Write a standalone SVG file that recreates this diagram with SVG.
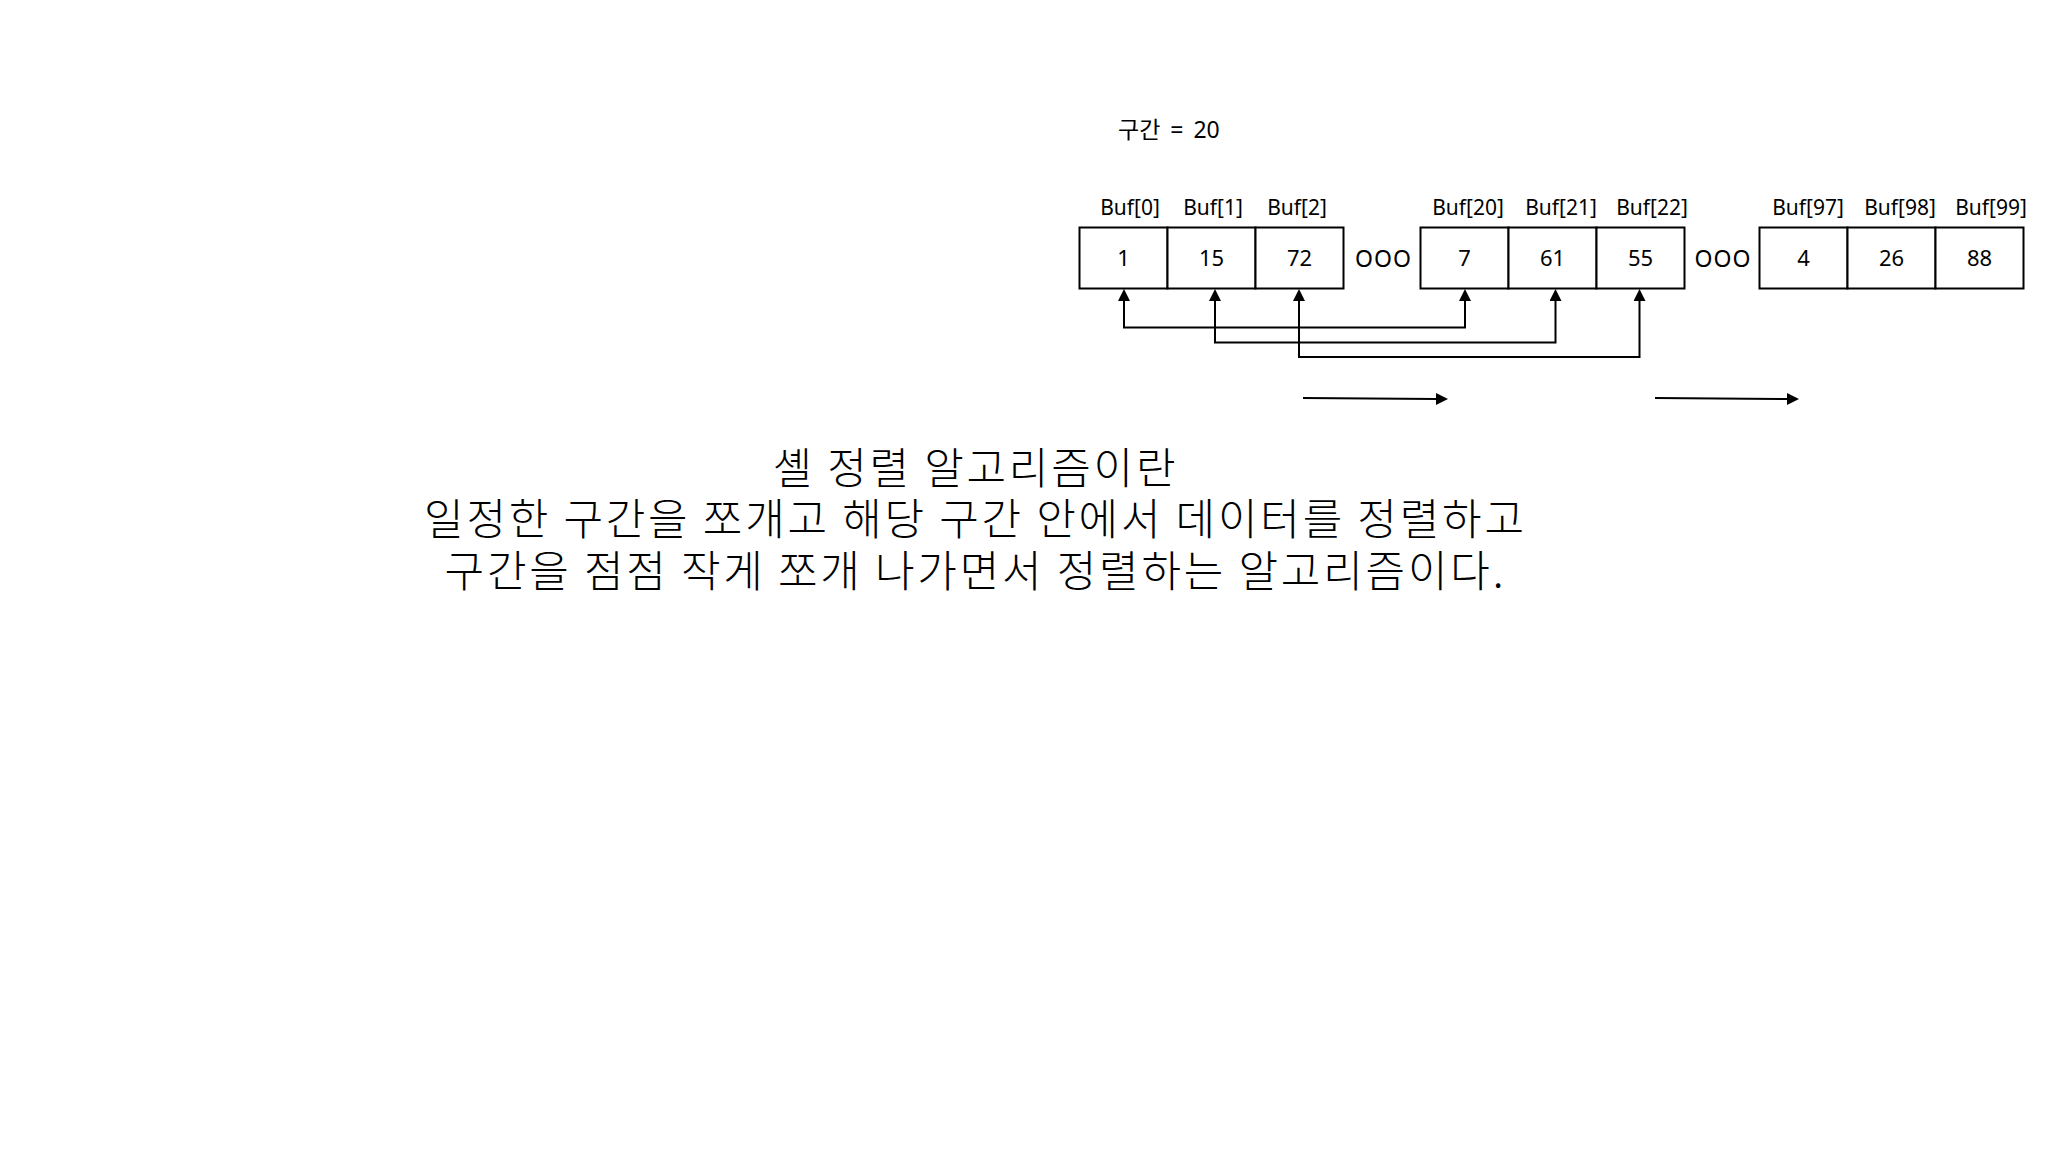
<svg xmlns="http://www.w3.org/2000/svg" width="2048" height="1152" viewBox="0 0 2048 1152">
<style>
.cell{fill:#fff;stroke:#000;stroke-width:2}
.num{font-family:"Noto Sans","Open Sans",sans-serif;font-size:22px;fill:#000;text-anchor:middle}
.lbl{font-family:"Noto Sans","Open Sans",sans-serif;font-size:21px;fill:#000;text-anchor:middle}
.dots{font-family:"Noto Sans","Open Sans",sans-serif;font-size:23px;fill:#000;text-anchor:middle;letter-spacing:1px}
.con{fill:none;stroke:#000;stroke-width:2}
.big{font-family:"Noto Sans CJK KR","Noto Sans",sans-serif;font-size:43px;font-weight:300;fill:#000;text-anchor:middle;letter-spacing:2.8px}
.hdr{font-family:"Noto Sans","Noto Sans CJK KR",sans-serif;font-size:23px;fill:#000;word-spacing:4px}
</style>
<defs>
<marker id="ah" markerUnits="userSpaceOnUse" markerWidth="12" markerHeight="12" viewBox="0 0 12 12" refX="0" refY="6" orient="auto-start-reverse">
<path d="M0,0 L12,6 L0,12 z" fill="#000"/>
</marker>
</defs>
<rect width="2048" height="1152" fill="#fff"/>

<g id="interval-label">
<text class="hdr" x="1118" y="138">구간 = 20</text>
</g>

<g id="group-start">
<g id="buf0"><rect class="cell" x="1079.5" y="227.5" width="88" height="61"/><text class="lbl" x="1130" y="215">Buf[0]</text><text class="num" x="1123.5" y="266">1</text></g>
<g id="buf1"><rect class="cell" x="1167.5" y="227.5" width="88" height="61"/><text class="lbl" x="1213" y="215">Buf[1]</text><text class="num" x="1211.5" y="266">15</text></g>
<g id="buf2"><rect class="cell" x="1255.5" y="227.5" width="88" height="61"/><text class="lbl" x="1297" y="215">Buf[2]</text><text class="num" x="1299.5" y="266">72</text></g>
</g>
<g id="ellipsis1"><text class="dots" x="1383.5" y="267">OOO</text></g>

<g id="group-mid">
<g id="buf20"><rect class="cell" x="1420.5" y="227.5" width="88" height="61"/><text class="lbl" x="1468" y="215">Buf[20]</text><text class="num" x="1464.5" y="266">7</text></g>
<g id="buf21"><rect class="cell" x="1508.5" y="227.5" width="88" height="61"/><text class="lbl" x="1561" y="215">Buf[21]</text><text class="num" x="1552.5" y="266">61</text></g>
<g id="buf22"><rect class="cell" x="1596.5" y="227.5" width="88" height="61"/><text class="lbl" x="1652" y="215">Buf[22]</text><text class="num" x="1640.5" y="266">55</text></g>
</g>
<g id="ellipsis2"><text class="dots" x="1723" y="267">OOO</text></g>

<g id="group-end">
<g id="buf97"><rect class="cell" x="1759.5" y="227.5" width="88" height="61"/><text class="lbl" x="1808" y="215">Buf[97]</text><text class="num" x="1803.5" y="266">4</text></g>
<g id="buf98"><rect class="cell" x="1847.5" y="227.5" width="88" height="61"/><text class="lbl" x="1900" y="215">Buf[98]</text><text class="num" x="1891.5" y="266">26</text></g>
<g id="buf99"><rect class="cell" x="1935.5" y="227.5" width="88" height="61"/><text class="lbl" x="1991" y="215">Buf[99]</text><text class="num" x="1979.5" y="266">88</text></g>
</g>

<g id="connectors">
<path class="con" d="M1124,301 V327.5 H1465 V301" marker-start="url(#ah)" marker-end="url(#ah)"/>
<path class="con" d="M1215,301 V342.5 H1555.5 V301" marker-start="url(#ah)" marker-end="url(#ah)"/>
<path class="con" d="M1299,301 V357 H1639.5 V301" marker-start="url(#ah)" marker-end="url(#ah)"/>
<path class="con" d="M1303,398 L1436,399" marker-end="url(#ah)"/>
<path class="con" d="M1655,398 L1787,399" marker-end="url(#ah)"/>
</g>

<g id="description">
<text class="big"><tspan x="975.4" y="484">셸 정렬 알고리즘이란</tspan><tspan x="975.4" y="535">일정한 구간을 쪼개고 해당 구간 안에서 데이터를 정렬하고</tspan><tspan x="975.4" y="587">구간을 점점 작게 쪼개 나가면서 정렬하는 알고리즘이다.</tspan></text>
</g>
</svg>
